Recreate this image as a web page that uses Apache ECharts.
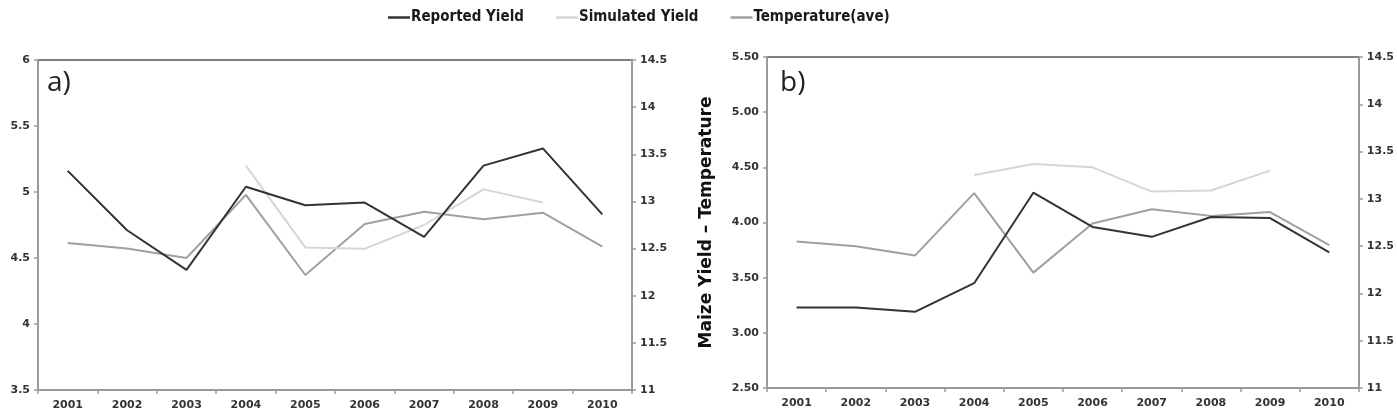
<!DOCTYPE html>
<html><head><meta charset="utf-8">
<script src="https://cdn.jsdelivr.net/npm/echarts@6/dist/echarts.min.js"></script>
<style>html,body{margin:0;padding:0;background:#fff}#c{width:1397px;height:414px}</style>
</head><body><div id="c"></div>
<script>
var years = ['2001','2002','2003','2004','2005','2006','2007','2008','2009','2010'];
var reportedA = [5.16, 4.71, 4.41, 5.04, 4.90, 4.92, 4.66, 5.20, 5.33, 4.83];
var simulatedA = [null, null, null, 5.20, 4.58, 4.57, 4.75, 5.02, 4.92, null];
var temperatureA = [12.56, 12.50, 12.40, 13.07, 12.22, 12.76, 12.89, 12.81, 12.88, 12.52];
var reportedB = [3.23, 3.23, 3.19, 3.45, 4.27, 3.96, 3.87, 4.05, 4.04, 3.73];
var simulatedB = [null, null, null, 4.43, 4.53, 4.50, 4.28, 4.29, 4.47, null];
var temperatureB = [12.55, 12.50, 12.40, 13.06, 12.22, 12.74, 12.89, 12.82, 12.86, 12.51];
var seriesNames = ['Reported Yield', 'Simulated Yield', 'Temperature(ave)'];
var yAxisTitleB = 'Maize Yield \u2013 Temperature';

var C_REP = '#333333', C_SIM = '#d6d6d6', C_TMP = '#a0a0a0';
var axisCol = '#9a9a9a';
var lblStyle = {fontFamily:'DejaVu Sans', fontWeight:'bold', fontSize:11, color:'#333'};

function xAx(g){
  return {type:'category', gridIndex:g, data:years, boundaryGap:true,
    axisLine:{show:true, lineStyle:{color:axisCol, width:2}},
    axisTick:{show:true, length:4, lineStyle:{color:axisCol, width:1.5}},
    axisLabel:Object.assign({margin:10}, lblStyle), splitLine:{show:false}};
}
function yAx(g, pos, min, max, fmt, extra){
  return Object.assign({type:'value', gridIndex:g, position:pos, min:min, max:max, interval:0.5,
    axisLine:{show:true, lineStyle:{color:axisCol, width:2}},
    axisTick:{show:true, length:4, lineStyle:{color:axisCol, width:1.5}},
    axisLabel:Object.assign({margin:8, formatter:fmt}, lblStyle),
    splitLine:{show:false}}, extra||{});
}
function line(name, data, color, xi, yi){
  return {name:name, type:'line', data:data, xAxisIndex:xi, yAxisIndex:yi,
    symbol:'none', connectNulls:false, lineStyle:{color:color, width:2}, itemStyle:{color:color}, z:3};
}

var chart = echarts.init(document.getElementById('c'), null, {renderer:'canvas'});
chart.setOption({
  backgroundColor:'#fff',
  animation:false,
  legend:{top:5, left:383, data:seriesNames, icon:'rect', itemWidth:22, itemHeight:2.5, itemGap:32,
    textStyle:{fontFamily:'Liberation Sans Narrow, DejaVu Sans Condensed, sans-serif', fontWeight:'bold', fontSize:15, color:'#1a1a1a', padding:[0,0,0,-4]}},
  grid:[
    {left:38, top:60, width:594, height:330, show:true, borderColor:'#555', borderWidth:1.5},
    {left:767, top:57, width:593, height:331, show:true, borderColor:'#555', borderWidth:1.5}
  ],
  xAxis:[xAx(0), xAx(1)],
  yAxis:[
    yAx(0,'left',3.5,6,function(v){return String(+v.toFixed(1));}),
    yAx(0,'right',11,14.5,function(v){return String(+v.toFixed(1));}),
    yAx(1,'left',2.5,5.5,function(v){return v.toFixed(2);},
      {name:yAxisTitleB, nameLocation:'middle', nameGap:52, nameRotate:90,
       nameTextStyle:{fontFamily:'DejaVu Sans', fontWeight:'bold', fontSize:17, color:'#111'}}),
    yAx(1,'right',11,14.5,function(v){return String(+v.toFixed(1));})
  ],
  graphic:[
    {type:'text', left:47, top:69, style:{text:'a)', font:'28px "Open Sans", "DejaVu Sans", sans-serif', fill:'#222'}},
    {type:'text', left:780, top:69, style:{text:'b)', font:'28px "Open Sans", "DejaVu Sans", sans-serif', fill:'#222'}}
  ],
  series:[
    line(seriesNames[2], temperatureA, C_TMP, 0, 1),
    line(seriesNames[1], simulatedA, C_SIM, 0, 0),
    line(seriesNames[0], reportedA, C_REP, 0, 0),
    line(seriesNames[2], temperatureB, C_TMP, 1, 3),
    line(seriesNames[1], simulatedB, C_SIM, 1, 2),
    line(seriesNames[0], reportedB, C_REP, 1, 2)
  ]
});
</script></body></html>
